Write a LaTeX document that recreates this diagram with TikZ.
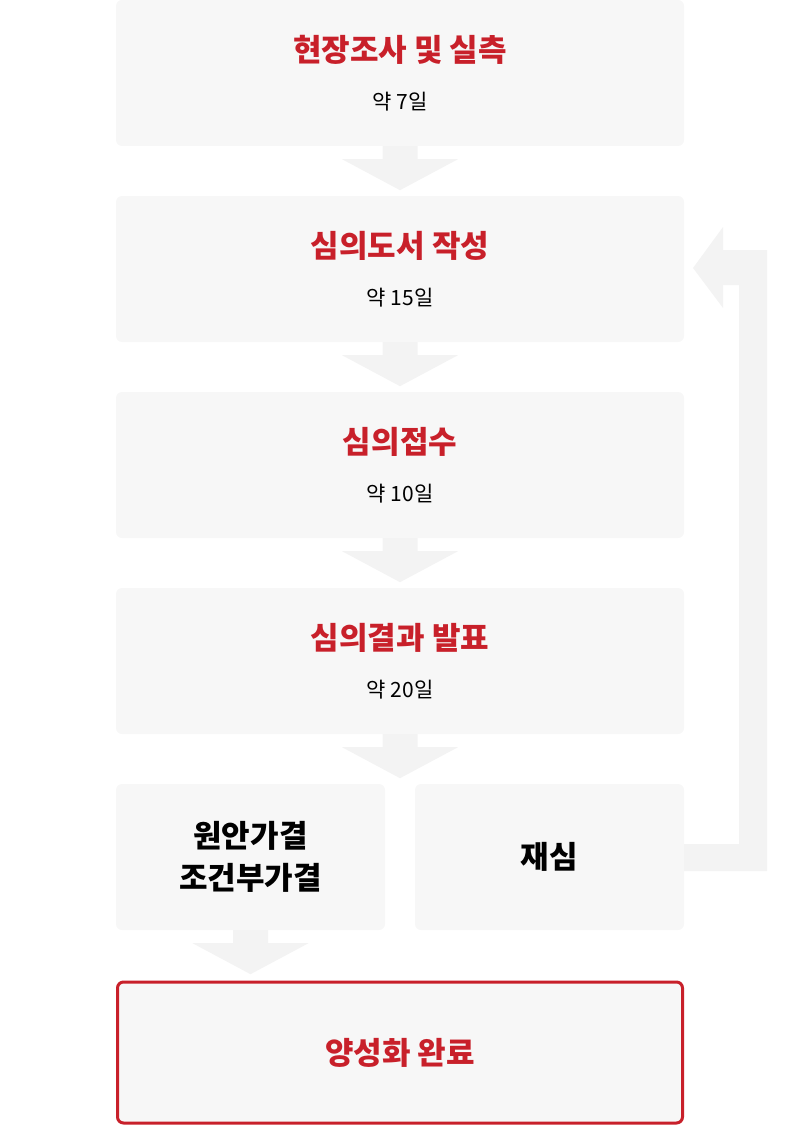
\documentclass[tikz,border=0pt]{standalone}
\usepackage{fontspec}
\setmainfont{Noto Sans CJK KR}
\usetikzlibrary{positioning}
\definecolor{boxgray}{HTML}{F7F7F7}
\definecolor{arrowgray}{HTML}{F3F3F3}
\definecolor{stepred}{HTML}{C8202A}
\tikzset{
  stage/.style = {fill = boxgray, rounded corners = 6pt, minimum width = 568pt,
                 minimum height = 146pt, align = center, inner sep = 0pt},
  half/.style = {stage, minimum width = 269pt},
  title/.style = {font = \fontsize{31}{36}\selectfont\bfseries, text = stepred},
  sub/.style = {font = \fontsize{21}{26}\selectfont},
  % downward flow arrow, drawn from a point at the top of the stem
  down/.pic = {\fill[arrowgray] (-17.5,0) -- (17.5,0) -- (17.5,13) -- (58,13)
               -- (0,44) -- (-58,13) -- (-17.5,13) -- cycle;}
}
\begin{document}
\begin{tikzpicture}[x=1pt, y=-1pt]
  \useasboundingbox (0,0) rectangle (800,1126);

  % stages
  \node[stage] (S1) at (400,73) {};
  \node[stage] (S2) at (400,269) {};
  \node[stage] (S3) at (400,465) {};
  \node[stage] (S4) at (400,661) {};
  \node[half] (S5a) at (250.5,857) {};
  \node[half] (S5b) at (549.5,857) {};
  \node[stage, draw = stepred, line width = 3pt, minimum width = 565pt,
        minimum height = 141pt] (S6) at (400,1052.5) {};

  % texts
  \node[title] (T1) at (400,50) {현장조사 및 실측};
  \node[sub] (D1) at (400,102) {약 7일};
  \node[title] (T2) at (400,246) {심의도서 작성};
  \node[sub] (D2) at (400,298) {약 15일};
  \node[title] (T3) at (400,442) {심의접수};
  \node[sub] (D3) at (400,494) {약 10일};
  \node[title] (T4) at (400,638) {심의결과 발표};
  \node[sub] (D4) at (400,690) {약 20일};
  \node[font = \fontsize{31}{42}\selectfont\bfseries, align = center] (T5a)
       at (S5a) {원안가결\\조건부가결};
  \node[font = \fontsize{31}{36}\selectfont\bfseries] (T5b) at (S5b) {재심};
  \node[title] (T6) at (S6) {양성화 완료};

  % flow arrows
  \foreach \n in {1,2,3,4}
    \pic at (S\n.south) {down};
  \pic at (S5a.south) {down};

  % back to the drawing stage
  \coordinate (R) at (S5b.east);
  \fill[arrowgray] ([yshift=-14]R) -- ++(83,0) -- (767,250) -- (723,250)
       -- (723,227) -- (693,268) -- (723,308) -- (723,285) -- (739,285)
       -- ([xshift=55,yshift=13]R) -- ([yshift=13]R) -- cycle;
\end{tikzpicture}
\end{document}
